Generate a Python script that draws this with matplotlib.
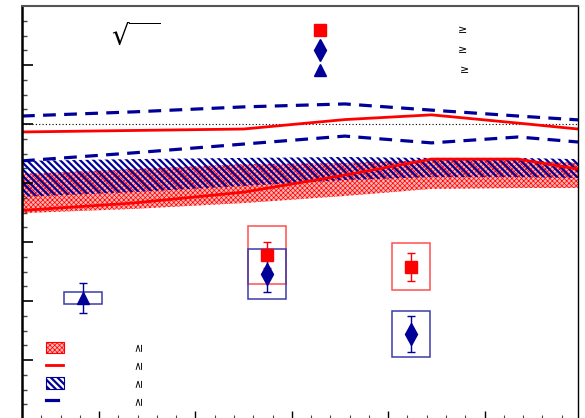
import matplotlib
matplotlib.use("Agg")
import matplotlib.pyplot as plt
from matplotlib.ticker import MultipleLocator, NullFormatter

# curve knots (x) and the bands / lines drawn on them
x_curve = [0.2, 1.35, 2.5, 3.55, 4.45, 5.35, 5.97]
red_band_lo = [0.698, 0.712, 0.732, 0.756, 0.780, 0.783, 0.783]
red_band_hi = [0.831, 0.847, 0.864, 0.868, 0.878, 0.878, 0.868]
blue_band_lo = [0.753, 0.769, 0.790, 0.810, 0.820, 0.820, 0.817]
blue_band_hi = [0.875, 0.881, 0.885, 0.888, 0.885, 0.885, 0.881]
red_line_lo = [0.707, 0.732, 0.769, 0.827, 0.881, 0.881, 0.847]
red_line_hi = [0.973, 0.978, 0.983, 1.015, 1.031, 1.003, 0.983]
blue_dash_lo = [0.875, 0.902, 0.932, 0.959, 0.936, 0.956, 0.939]
blue_dash_hi = [1.027, 1.041, 1.058, 1.068, 1.047, 1.027, 1.014]

# data points
sq_x = [2.743, 4.237]
sq_y = [0.556, 0.515]
sq_err = [0.044, 0.047]
sq_sys_lo = [0.458, 0.437]
sq_sys_hi = [0.654, 0.597]

dm_x = [2.743, 4.237]
dm_y = [0.492, 0.288]
dm_err = [0.061, 0.061]
dm_sys_lo = [0.407, 0.210]
dm_sys_hi = [0.576, 0.366]

tri_x = [0.834]
tri_y = [0.410]
tri_err = [0.05]
tri_sys_lo = [0.390]
tri_sys_hi = [0.431]

box_w = 0.394
navy = "#000099"
pink = "#ffb4b4"
red_hatch = "x" * 7
blue_hatch = "\\" * 5

fig = plt.figure(figsize=(5.85, 4.18), dpi=100)
ax = fig.add_axes([22 / 585, -1 / 418, 556 / 585, 413 / 418])


def axf(px, py):
    # pixel position of the original picture -> axes fraction
    return (px - 22) / 556, (419 - py) / 413


# bands
with plt.rc_context({"hatch.linewidth": 0.5}):
    ax.fill_between(x_curve, red_band_lo, red_band_hi, facecolor=pink,
                    edgecolor="red", hatch=red_hatch, linewidth=0)
    x0, y0 = axf(46, 353)
    x1, y1 = axf(64, 342)
    ax.add_patch(plt.Rectangle((x0, y0), x1 - x0, y1 - y0, transform=ax.transAxes,
                               facecolor=pink, edgecolor="red", hatch=red_hatch, lw=0.8))
with plt.rc_context({"hatch.linewidth": 1.6}):
    ax.fill_between(x_curve, blue_band_lo, blue_band_hi, facecolor="none",
                    edgecolor=navy, hatch=blue_hatch, linewidth=0)
    x0, y0 = axf(46, 389)
    x1, y1 = axf(64, 377)
    ax.add_patch(plt.Rectangle((x0, y0), x1 - x0, y1 - y0, transform=ax.transAxes,
                               facecolor="white", edgecolor=navy, hatch=blue_hatch, lw=0.8))

ax.axhline(1.0, color="black", lw=0.8, ls=(0, (1, 2)))

ax.plot(x_curve, red_line_lo, color="red", lw=2)
ax.plot(x_curve, red_line_hi, color="red", lw=2)
ax.plot(x_curve, blue_dash_lo, color=navy, lw=2.3, dashes=(4, 2.6))
ax.plot(x_curve, blue_dash_hi, color=navy, lw=2.3, dashes=(4, 2.6))

# systematic boxes
sq_h = [h - l for h, l in zip(sq_sys_hi, sq_sys_lo)]
dm_h = [h - l for h, l in zip(dm_sys_hi, dm_sys_lo)]
tri_h = [h - l for h, l in zip(tri_sys_hi, tri_sys_lo)]
ax.bar(sq_x, sq_h, bottom=sq_sys_lo, width=box_w, fill=False, edgecolor="#ff5050", lw=1.1)
ax.bar(dm_x, dm_h, bottom=dm_sys_lo, width=box_w, fill=False, edgecolor="#3a3aaa", lw=1.1)
ax.bar(tri_x, tri_h, bottom=tri_sys_lo, width=box_w, fill=False, edgecolor="#3a3aaa", lw=1.1)

ax.errorbar(sq_x, sq_y, yerr=sq_err, fmt="s", color="red", ms=8, capsize=3, elinewidth=1)
ax.errorbar(dm_x, dm_y, yerr=dm_err, fmt="d", color=navy, ms=11, capsize=3, elinewidth=1)
ax.errorbar(tri_x, tri_y, yerr=tri_err, fmt="^", color=navy, ms=9, capsize=3, elinewidth=1)

ax.set_xlim(0.2, 5.97)
ax.set_ylim(0, 1.4)

# legend (top right)
for (px, py), m, c, s in [((320, 30), "s", "red", 8), ((320, 50), "d", navy, 11),
                          ((320, 70), "^", navy, 9)]:
    ax.plot(*axf(px, py), marker=m, color=c, ms=s, transform=ax.transAxes, clip_on=False)
for px, py in [(463, 30), (463, 50), (465, 70)]:
    ax.text(*axf(px, py), "≥", transform=ax.transAxes, fontsize=8, ha="center", va="center")

# legend (bottom left)
a, b = axf(46, 365), axf(63, 365)
ax.plot([a[0], b[0]], [a[1], b[1]], color="red", lw=2, transform=ax.transAxes)
a, b = axf(46, 400), axf(58, 400)
ax.plot([a[0], b[0]], [a[1], b[1]], color=navy, lw=2.3, transform=ax.transAxes)
for py in [346, 364, 382, 400]:
    ax.text(*axf(139, py), "≥", transform=ax.transAxes, fontsize=8, rotation=90,
            ha="center", va="center")

ax.text(*axf(136, 37), r"$\sqrt{\ \ \,}$", transform=ax.transAxes,
        fontsize=20, ha="center", va="center")

# axes style
ax.xaxis.set_major_locator(MultipleLocator(1))
ax.xaxis.set_minor_locator(MultipleLocator(0.2))
ax.yaxis.set_major_locator(MultipleLocator(0.2))
ax.yaxis.set_minor_locator(MultipleLocator(0.05))
ax.xaxis.set_major_formatter(NullFormatter())
ax.yaxis.set_major_formatter(NullFormatter())
ax.tick_params(which="both", direction="in", top=False, right=False)
ax.tick_params(axis="y", which="major", length=8, width=1.2)
ax.tick_params(axis="y", which="minor", length=3.8, width=1, color="#444444")
ax.tick_params(axis="x", which="major", length=6, width=1)
ax.tick_params(axis="x", which="minor", length=3, width=0.8, color="#444444")
ax.spines["left"].set_linewidth(1.8)
ax.spines["top"].set_linewidth(1.5)
ax.spines["top"].set_color("#555555")
ax.spines["right"].set_linewidth(1)

fig.savefig("out.png", dpi=100)
